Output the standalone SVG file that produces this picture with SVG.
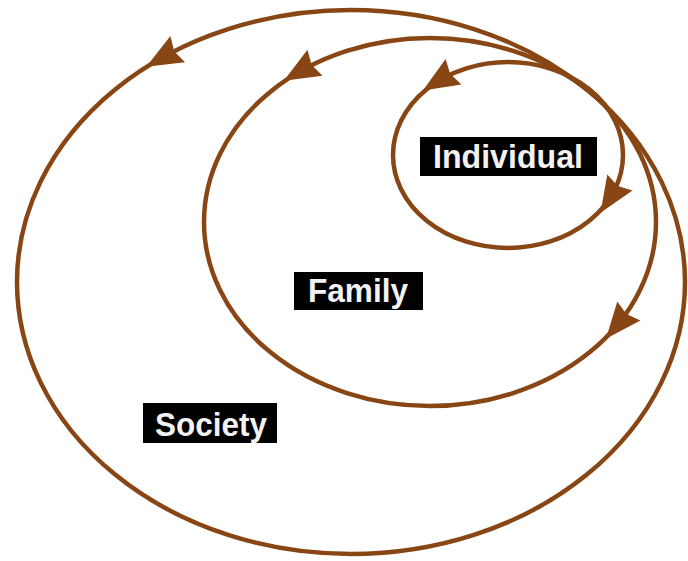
<svg xmlns="http://www.w3.org/2000/svg" xmlns:xlink="http://www.w3.org/1999/xlink" width="688" height="561" viewBox="0 0 688 561">
  <defs>
    <style>
      .ring { fill: none; stroke: #884615; stroke-width: 4.5; }
      .lbl-box { fill: #000; }
      .lbl { fill: #f2f2f2; font-family: "Liberation Sans", Arial, sans-serif; font-weight: bold; font-size: 33px; text-anchor: middle; }
      .head { fill: #884615; }
    </style>
    <path id="ah" d="M18,0 L-18,-15 L-14,0 L-18,15 Z"/>
  </defs>
  <rect width="688" height="561" fill="#fff"/>

  <g id="node-society">
    <ellipse class="ring" cx="351" cy="282" rx="334" ry="272"/>
    <rect class="lbl-box" x="143" y="403" width="134" height="40"/>
    <text class="lbl" x="211" y="436" textLength="112" lengthAdjust="spacingAndGlyphs">Society</text>
  </g>

  <g id="node-family">
    <ellipse class="ring" cx="430" cy="222" rx="226" ry="184"/>
    <rect class="lbl-box" x="294" y="272" width="129" height="38"/>
    <text class="lbl" x="358" y="302" textLength="100" lengthAdjust="spacingAndGlyphs">Family</text>
  </g>

  <g id="node-individual">
    <ellipse class="ring" cx="508" cy="155" rx="115" ry="93"/>
    <rect class="lbl-box" x="420" y="137" width="177" height="39"/>
    <text class="lbl" x="508" y="168" textLength="150" lengthAdjust="spacingAndGlyphs">Individual</text>
  </g>

  <g id="connectors">
    <use xlink:href="#ah" class="head" transform="translate(162,58) rotate(150.8)"/>
    <use xlink:href="#ah" class="head" transform="translate(299.4,71.8) rotate(150)"/>
    <use xlink:href="#ah" class="head" transform="translate(617.4,324.9) rotate(129.6)"/>
    <use xlink:href="#ah" class="head" transform="translate(438.2,81.1) rotate(148.3)"/>
    <use xlink:href="#ah" class="head" transform="translate(610.2,197.7) rotate(122.6)"/>
  </g>
</svg>
